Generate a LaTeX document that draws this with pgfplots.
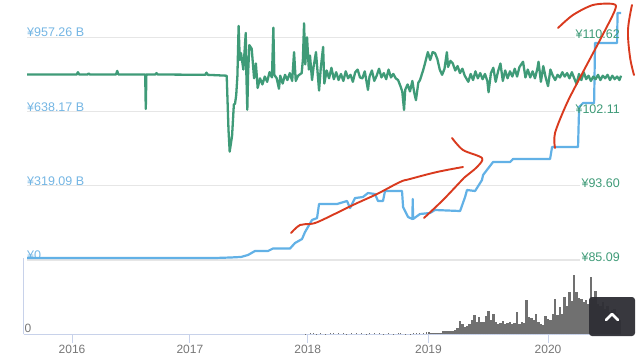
\documentclass[border=0pt]{standalone}
\usepackage{pgfplots}
\pgfplotsset{compat=1.18}
\usepackage{fontspec}
\setmainfont{Liberation Sans}
\definecolor{bl}{HTML}{62B1E6}
\definecolor{bltxt}{HTML}{74B6E4}
\definecolor{gr}{HTML}{3F9B78}
\definecolor{gridc}{HTML}{E6E6E6}
\definecolor{frame}{HTML}{C8D2EA}
\definecolor{vol}{HTML}{707070}
\definecolor{txt}{HTML}{777777}
\definecolor{btn}{HTML}{2E2E34}
\definecolor{redp}{HTML}{D93A1E}
\pgfplotsset{
  base/.style={scale only axis, clip=false, xmin=2015.622, xmax=2020.613,
    width=594pt, axis line style={draw=none}, major tick length=0pt, xtick=\empty,
    /pgf/number format/assume math mode=true}
}
\begin{document}
\begin{tikzpicture}[x=1pt,y=1pt]
\path[use as bounding box, fill=white] (0,0) rectangle (640,360);
% volume
\begin{axis}[at={(23.5pt,26pt)}, scale only axis, width=597.5pt, height=76pt,
  xmin=2015.592, xmax=2020.613, ymin=0, ymax=76, clip=false,
  axis x line=bottom, axis y line=left, axis line style={draw=frame, line width=0.8pt, -},
  xtick={2016,2016.99,2017.98,2018.995,2020}, xticklabels={2016,2017,2018,2019,2020},
  tick align=outside, major tick length=9pt, tick style={draw=frame, line width=0.8pt},
  xticklabel style={font=\fontsize{12}{12}\selectfont, text=txt, inner sep=0pt, yshift=-2pt},
  ytick={0}, yticklabels={0},
  y tick style={draw=none},
  yticklabel style={font=\fontsize{12}{12}\selectfont, text=txt, anchor=south west, inner sep=0pt, xshift=10pt, yshift=1pt},
  /pgf/number format/assume math mode=true]
\addplot[ycomb, vol, line width=0.9pt, mark=none] coordinates {
(2017.96,0.5)(2018.00,1)(2018.03,1.5)(2018.05,0.5)(2018.09,1)(2018.13,0.5)(2018.17,1.5)(2018.20,1.5)(2018.24,0.6)(2018.28,0.7)(2018.31,0.5)(2018.35,0.7)(2018.39,0.6)(2018.43,0.8)(2018.47,0.5)(2018.50,0.9)(2018.54,0.6)(2018.58,0.8)(2018.62,0.5)(2018.66,1)(2018.70,0.5)(2018.74,0.6)(2018.76,1.5)(2018.80,0.5)(2018.84,0.5)(2018.87,1)(2018.89,1.5)(2018.92,1)(2018.95,0.8)(2018.98,2)};
\addplot[ycomb, vol, line width=2.5pt, mark=none] coordinates {
(2019.00,2)(2019.02,1)(2019.04,1)(2019.06,1)(2019.08,1)(2019.10,1.5)(2019.12,3)(2019.14,3.5)(2019.16,3)(2019.18,3.5)
(2019.20,3.5)(2019.22,4.5)(2019.24,6)(2019.26,13)(2019.28,10)(2019.30,7)(2019.32,8)(2019.34,10)(2019.36,14)(2019.38,19)
(2019.40,12)(2019.42,17)(2019.44,12)(2019.46,12)(2019.48,18)(2019.50,23)(2019.52,14)(2019.54,20)(2019.56,12)(2019.58,10)
(2019.60,11)(2019.62,13)(2019.64,10)(2019.66,11)(2019.68,12)(2019.70,10)(2019.72,11)(2019.74,22)(2019.76,10)(2019.78,12)
(2019.80,11)(2019.82,34)(2019.84,17)(2019.86,16)(2019.88,14)(2019.90,20)(2019.92,12)(2019.94,10)(2019.96,9)(2019.98,18)
(2020.00,15)(2020.02,14)(2020.04,20)(2020.06,35)(2020.08,19)(2020.10,27)(2020.12,20)(2020.14,37)(2020.16,28)(2020.18,42)
(2020.20,33)(2020.22,59)(2020.24,42)(2020.26,36)(2020.28,35)(2020.30,32)(2020.32,34)(2020.34,30)(2020.36,57)(2020.38,35)
(2020.40,43)(2020.42,30)(2020.44,28)(2020.46,32)(2020.48,25)(2020.50,28)(2020.52,22)(2020.54,24)(2020.56,25)(2020.58,20)(2020.60,14)};
\end{axis}
% turnover / value (left scale)
\begin{axis}[base, at={(27pt,100pt)}, height=260pt, ymin=0, ymax=1116.6,
  ytick={0,319.09,638.17,957.26}, yticklabels={¥0,¥319.09 B,¥638.17 B,¥957.26 B},
  yticklabel style={font=\fontsize{12.5}{12.5}\selectfont, text=bltxt, anchor=south west, inner sep=0pt, xshift=0pt, yshift=0pt}]
\addplot[gridc, line width=1.1pt] coordinates {(2015.622,0)(2020.27,0)};
\addplot[gridc, line width=1.1pt] coordinates {(2015.622,319.09)(2020.27,319.09)};
\addplot[gridc, line width=1.1pt] coordinates {(2015.622,638.17)(2020.23,638.17)};
\addplot[gridc, line width=1.1pt] coordinates {(2015.622,957.26)(2020.23,957.26)};
\addplot[bl, line width=2.2pt, mark=none, line join=round] coordinates {
(2015.622,8.6)(2016.5,8.6)(2017.2,8.6)(2017.33,10.7)(2017.42,13)(2017.479,21.5)(2017.538,38.7)(2017.647,38.7)(2017.689,49.4)(2017.832,49.4)(2017.874,73)(2017.933,90.2)(2017.958,120)(2018.017,172)(2018.059,180)(2018.076,240.5)(2018.227,240.5)(2018.311,253.4)(2018.336,223)(2018.378,266)(2018.445,270.6)(2018.487,287.7)(2018.546,283.4)(2018.571,253.4)(2018.613,253.4)(2018.630,296.3)(2018.773,296.3)(2018.782,227.6)(2018.824,184.7)(2018.860,176)(2018.863,262)(2018.866,176)(2018.924,197.6)(2019.008,201.8)(2019.050,214.7)(2019.261,210.4)(2019.303,270.6)(2019.319,300.6)(2019.387,296.3)(2019.445,343.6)(2019.454,365)(2019.538,420.9)(2019.681,420.9)(2019.706,433.8)(2020.017,433.8)(2020.034,485.3)(2020.252,485.3)(2020.261,657)(2020.294,674)(2020.387,674)(2020.395,932)(2020.580,932)(2020.584,1060.7)(2020.613,1060.7)};
\end{axis}
% price (right scale)
\begin{axis}[base, at={(27pt,100pt)}, height=260pt, ymin=85.09, ymax=114.87,
  axis y line*=right, axis x line=none,
  ytick={85.09,93.60,102.11,110.62}, yticklabels={¥85.09,¥93.60,¥102.11,¥110.62},
  yticklabel style={font=\fontsize{12.5}{12.5}\selectfont, text=gr, anchor=south east, inner sep=0pt, xshift=-1pt, yshift=-2pt}]
\addplot[gr, line width=2.3pt, mark=none, line join=round] coordinates {
(2015.622,106.34)(2016.04,106.34)(2016.05,106.6)(2016.06,106.34)(2016.13,106.34)(2016.14,106.45)(2016.15,106.34)(2016.37,106.34)(2016.38,106.75)(2016.39,106.34)(2016.615,106.34)(2016.62,102.4)(2016.625,106.34)(2016.70,106.34)(2016.71,106.5)(2016.72,106.34)(2017.12,106.3)(2017.13,106.55)(2017.14,106.3)(2017.30,106.2)(2017.315,100)(2017.325,97.5)(2017.345,99.3)(2017.36,102.9)(2017.37,103)(2017.38,104)(2017.39,106.2)
(2017.40,111.9)(2017.41,108)(2017.42,108.8)(2017.44,106.9)(2017.46,111.1)(2017.465,106.5)(2017.473,102.3)(2017.48,106.5)(2017.49,109.7)(2017.51,109.3)(2017.53,105.9)(2017.545,107.6)(2017.56,104.8)(2017.58,105.9)(2017.60,105.2)(2017.62,106.1)(2017.64,105.5)(2017.66,106.6)(2017.68,106)(2017.692,111.7)(2017.70,106.3)(2017.72,105.9)(2017.739,104.7)(2017.75,106.2)(2017.77,105.3)(2017.79,106.3)(2017.81,105.7)(2017.83,106.5)(2017.85,105.6)(2017.866,108.9)(2017.88,105.6)(2017.90,106.2)(2017.93,106.5)(2017.94,108)(2017.95,112.2)(2017.96,107.5)(2017.975,110.6)(2017.99,106.9)(2018.00,108.5)(2018.017,105.7)(2018.03,107.2)(2018.05,108.9)(2018.076,104.5)(2018.09,107)(2018.11,109.5)(2018.12,105.3)(2018.14,106.8)(2018.16,105.9)
(2018.18,107.1)(2018.20,105.8)(2018.22,106.6)(2018.24,105.7)(2018.26,106.4)(2018.28,105.6)(2018.30,106.7)(2018.32,105.9)(2018.34,106.3)(2018.36,105.5)(2018.38,106.6)(2018.40,106.9)(2018.42,106)(2018.44,105.9)(2018.46,106.7)(2018.487,104.57)(2018.50,106.1)(2018.52,106.8)(2018.54,105.6)(2018.56,106.2)(2018.58,107)(2018.60,106)(2018.62,106.5)(2018.64,105.8)(2018.66,106.9)(2018.68,106)(2018.70,106.4)(2018.72,105.9)(2018.74,105.7)(2018.76,105)(2018.775,104.4)(2018.79,102.27)(2018.80,104.6)(2018.82,105.2)(2018.84,104.4)(2018.86,105.6)(2018.875,104.3)(2018.89,103.4)(2018.91,105.4)(2018.924,105.7)(2018.95,106.8)(2018.966,107.6)(2018.99,108.9)(2019.01,108)(2019.03,108.9)(2019.05,108.8)(2019.07,108.1)(2019.09,106.9)(2019.11,106.3)(2019.13,107)(2019.15,108.9)(2019.16,107.2)(2019.18,107.9)(2019.20,107.6)(2019.22,106.8)(2019.24,107.3)(2019.26,106.5)(2019.28,107)(2019.30,106.2)(2019.33,105.5)(2019.35,106.4)(2019.37,105.7)(2019.39,106.7)(2019.41,105.9)(2019.43,106.5)(2019.45,105.8)(2019.47,106.4)(2019.49,105.6)(2019.50,104.3)(2019.52,106.5)(2019.54,107.1)(2019.56,105.5)(2019.58,106.7)(2019.60,107.6)(2019.62,105.6)(2019.64,106.8)(2019.66,105.9)(2019.68,106.7)(2019.70,106.1)(2019.72,107)(2019.74,106.1)(2019.76,107.2)(2019.79,107.8)(2019.81,106)(2019.83,106.9)(2019.85,106)(2019.87,106.7)(2019.89,105.9)(2019.91,107)(2019.92,107.8)(2019.94,105.5)(2019.96,107.3)(2019.98,106)(2020.00,105)(2020.02,106.9)(2020.04,106.2)(2020.06,105.7)(2020.08,106.3)(2020.10,106)(2020.12,106.6)(2020.14,106.1)(2020.16,106.5)(2020.18,105.9)(2020.20,106.6)(2020.22,105.9)(2020.24,105.25)(2020.26,106.4)(2020.28,105.7)(2020.30,106.6)(2020.32,105.8)(2020.34,106.2)(2020.36,105.6)(2020.38,106.1)(2020.40,105.8)(2020.42,106.3)(2020.44,105.7)(2020.46,106.2)(2020.48,105.9)(2020.50,106.3)(2020.52,105.7)(2020.54,106.2)(2020.56,105.8)(2020.58,106.1)(2020.60,105.7)(2020.613,106.2)};
\end{axis}
% button
\fill[btn, opacity=0.95, rounded corners=3pt] (589,24) rectangle (635,63);
\draw[white, line width=2.6pt, line cap=round, line join=round] (606,40) -- (612,46) -- (618,40);
% hand-drawn strokes
\begin{scope}[redp, line width=1.9pt, line cap=round, line join=round]
\draw plot[smooth, tension=0.6] coordinates {(291,127)(300,135)(310,136)(320,139)(353,155)(377,166)(400,178)(410,181)(437,188)(463,193)};
\draw plot[smooth, tension=0.5] coordinates {(452,222)(463,210)(482,202)(477,193)(465,183)(462,180)(443,160)(424,142)};
\draw plot[smooth, tension=0.5] coordinates {(555,212)(555,227)(567,257)(583,288)(600,320)(615,350)(613,356)(593,355)(573,345)(558,332)};
\draw plot[smooth, tension=0.6] coordinates {(632,355)(628,330)(630,303)(634,285)};
\end{scope}
\end{tikzpicture}
\end{document}
